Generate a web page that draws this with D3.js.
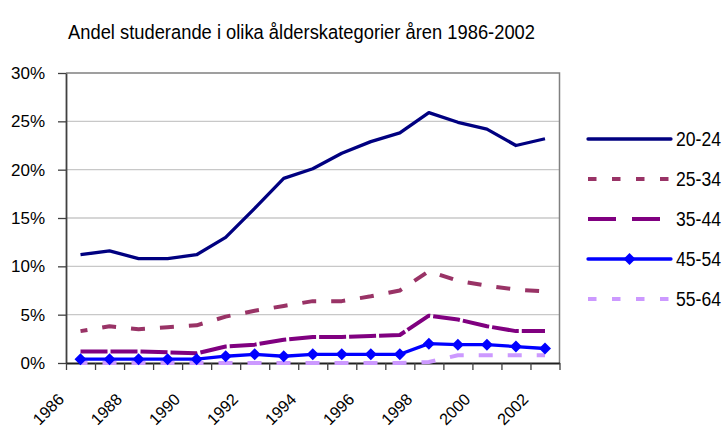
<!DOCTYPE html>
<html>
<head>
<meta charset="utf-8">
<script src="https://cdn.jsdelivr.net/npm/d3@7"></script>
<style>
	body { margin: 0; background-color: #fff; }
	text { font-family: "Liberation Sans", Arial, sans-serif; fill: #000; }
</style>
</head>
<body>
<script>
let years = ["1986", "1987", "1988", "1989", "1990", "1991", "1992", "1993", "1994",
	"1995", "1996", "1997", "1998", "1999", "2000", "2001", "2002"];
let yearLabels = ["1986", "1988", "1990", "1992", "1994", "1996", "1998", "2000", "2002"];
let yTicks = [0, 5, 10, 15, 20, 25, 30];

let seriesNames = ["20-24", "25-34", "35-44", "45-54", "55-64"];
let v2024 = [11.2, 11.6, 10.8, 10.8, 11.2, 13.0, 16.0, 19.1, 20.1, 21.7, 22.9, 23.8, 25.9, 24.9, 24.2, 22.5, 23.2];
let v2534 = [3.3, 3.8, 3.5, 3.7, 3.9, 4.8, 5.4, 5.9, 6.4, 6.4, 6.9, 7.5, 9.5, 8.5, 8.0, 7.6, 7.4];
let v3544 = [1.2, 1.2, 1.2, 1.1, 1.0, 1.7, 1.9, 2.4, 2.7, 2.7, 2.8, 2.9, 4.9, 4.5, 3.8, 3.3, 3.3];
let v4554 = [0.4, 0.4, 0.4, 0.4, 0.4, 0.7, 0.9, 0.7, 0.9, 0.9, 0.9, 0.9, 2.0, 1.9, 1.9, 1.7, 1.5];
let v5564 = [0, 0, 0, 0, 0, 0, 0, 0, 0, 0, 0, 0, 0.1, 0.8, 0.8, 0.8, 0.8];

function init() {
	let width = 723;
	let height = 428;
	let left = 66, right = 559.5, top = 73, bottom = 363;

	let svg = d3.select("body").append("svg")
		.attr("width", width)
		.attr("height", height);

	let x = d3.scaleBand()
		.domain(years)
		.range([left, right]);

	let xEdge = d3.scaleLinear()
		.domain([0, years.length])
		.range([left, right]);

	let y = d3.scaleLinear()
		.domain([0, 30])
		.range([bottom, top]);

	// styles per series (plot dash, legend dash)
	let styles = [
		{values: v2024, color: "#000080", width: 3.3, dash: null, legendDash: null},
		{values: v2534, color: "#993366", width: 4, dash: "14,15", offset: 7, legendDash: "8.5,15.5"},
		{values: v3544, color: "#800080", width: 4, dash: "27,3", offset: 0, legendDash: "28,16"},
		{values: v4554, color: "#0000ff", width: 3.3, dash: null, legendDash: null, marker: true},
		{values: v5564, color: "#cc99ff", width: 4, dash: "14,15", offset: 7, legendDash: "8.5,15.5"}
	];

	svg.append("text")
		.attr("x", 68)
		.attr("y", 38.5)
		.attr("font-size", 20.5)
		.attr("textLength", 467)
		.attr("lengthAdjust", "spacingAndGlyphs")
		.text("Andel studerande i olika ålderskategorier åren 1986-2002");

	// gridlines
	svg.append("g")
		.selectAll("line")
		.data(yTicks.filter(d => d > 0 && d < 30))
		.enter().append("line")
		.attr("x1", left)
		.attr("x2", right)
		.attr("y1", d => y(d))
		.attr("y2", d => y(d))
		.attr("stroke", "#c8c8c8")
		.attr("stroke-width", 1.3);

	// plot border top + right
	svg.append("path")
		.attr("d", `M${left},${y(30)}H${right}V${bottom}`)
		.attr("fill", "none")
		.attr("stroke", "#808080")
		.attr("stroke-width", 1.5);

	let yAxis = svg.append("g")
		.attr("transform", `translate(${left},0)`)
		.call(d3.axisLeft(y).tickValues(yTicks).tickFormat(d => d + "%").tickSize(8).tickPadding(13).tickSizeOuter(0));
	yAxis.select(".domain").attr("stroke", "#404040").attr("stroke-width", 1.8);
	yAxis.selectAll(".tick line").attr("stroke", "#404040").attr("stroke-width", 1.3);
	yAxis.selectAll(".tick text")
		.attr("font-size", 17)
		.attr("font-family", "Liberation Sans, Arial, sans-serif")
		.attr("fill", "#000");

	let xAxis = svg.append("g")
		.attr("transform", `translate(0,${bottom})`)
		.call(d3.axisBottom(xEdge).tickValues(d3.range(0, years.length + 1)).tickFormat("").tickSize(7).tickSizeOuter(0));
	xAxis.select(".domain").attr("stroke", "#202020").attr("stroke-width", 1.8);
	xAxis.selectAll(".tick line").attr("stroke", "#404040").attr("stroke-width", 1.3);

	svg.append("g")
		.selectAll("text")
		.data(yearLabels)
		.enter().append("text")
		.attr("transform", d => `translate(${x(d) + x.bandwidth() / 2 - 15.5},400.5) rotate(-45)`)
		.attr("text-anchor", "end")
		.attr("font-size", 16.2)
		.text(d => d);

	let line = d3.line()
		.x((d, i) => x(years[i]) + x.bandwidth() / 2)
		.y(d => y(d));

	let drawOrder = [0, 1, 2, 4, 3];
	drawOrder.forEach(k => {
		let s = styles[k];
		svg.append("path")
			.datum(s.values)
			.attr("d", line)
			.attr("fill", "none")
			.attr("stroke", s.color)
			.attr("stroke-width", s.width)
			.attr("stroke-linejoin", "round")
			.attr("stroke-dasharray", s.dash)
			.attr("stroke-dashoffset", s.offset || 0);

		if (s.marker) {
			svg.append("g")
				.selectAll("path")
				.data(s.values)
				.enter().append("path")
				.attr("d", d3.symbol(d3.symbolSquare, 72))
				.attr("transform", (d, i) => `translate(${x(years[i]) + x.bandwidth() / 2},${y(d)}) rotate(45)`)
				.attr("fill", s.color);
		}
	});

	// legend
	let legend = svg.append("g")
		.selectAll(".legend-item")
		.data(seriesNames)
		.enter().append("g")
		.attr("class", "legend-item")
		.attr("transform", (d, i) => `translate(0,${139 + i * 40})`);

	legend.append("line")
		.attr("x1", 588)
		.attr("x2", 671)
		.attr("stroke", (d, i) => styles[i].color)
		.attr("stroke-width", (d, i) => styles[i].width)
		.attr("stroke-linecap", (d, i) => styles[i].legendDash ? "butt" : "round")
		.attr("stroke-dasharray", (d, i) => styles[i].legendDash);

	legend.filter((d, i) => styles[i].marker)
		.append("path")
		.attr("d", d3.symbol(d3.symbolSquare, 72))
		.attr("transform", "translate(629.5,0) rotate(45)")
		.attr("fill", styles[3].color);

	// taller, narrow-looking legend text
	legend.append("text")
		.attr("transform", "translate(676,7) scale(1,1.2)")
		.attr("font-size", 17.6)
		.text(d => d);
}

window.onload = () => {
	init();
};
</script>
</body>
</html>
